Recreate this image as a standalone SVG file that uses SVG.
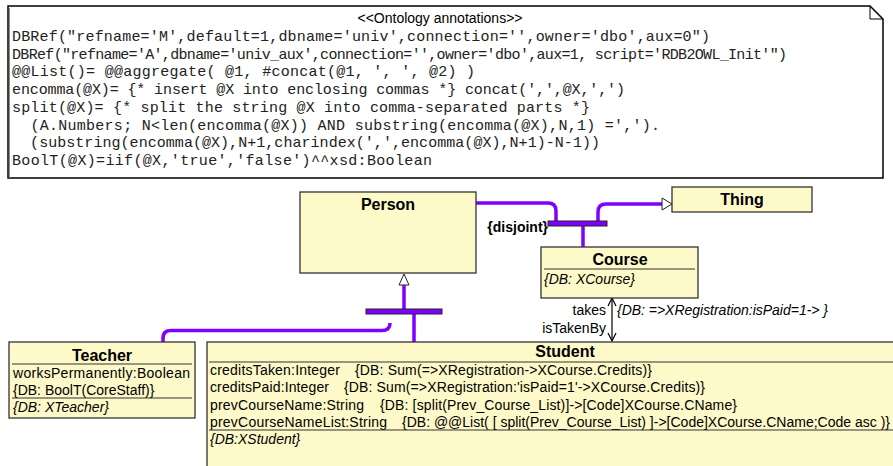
<svg xmlns="http://www.w3.org/2000/svg" width="893" height="466" viewBox="0 0 893 466">
<style>
.box{fill:#fdf9c8;stroke:#333;stroke-width:1.3}
.sep{stroke:#333;stroke-width:1.2}
.title{font-family:"Liberation Sans",Arial,sans-serif;font-size:16px;font-weight:bold;fill:#000}
.attr{font-family:"Liberation Sans",Arial,sans-serif;font-size:14px;fill:#000}
.it{font-style:italic}
.mono{font-family:"Liberation Mono","Courier New",monospace;font-size:15px;fill:#222}
.gen{fill:none;stroke:#8000ff;stroke-width:3.5}
.bar{fill:#8000ff;stroke:#222;stroke-width:1}
.assoc{fill:none;stroke:#000;stroke-width:1.2}
</style>
<rect width="893" height="466" fill="#fff"/>
<g id="annotation">
<path d="M8,6 H870 L883,19 V178 H8 Z" fill="#fff" stroke="#000" stroke-width="1.5"/>
<path d="M870,6 V19 H883" fill="none" stroke="#000" stroke-width="1"/>
<line x1="9.5" y1="8" x2="9.5" y2="178" stroke="#888" stroke-width="1"/>
<text x="440" y="23" text-anchor="middle" class="attr">&lt;&lt;Ontology annotations&gt;&gt;</text>
<text class="mono" xml:space="preserve" x="12" y="41" textLength="698" lengthAdjust="spacing">DBRef("refname='M',default=1,dbname='univ',connection='',owner='dbo',aux=0")</text>
<text class="mono" xml:space="preserve" x="12" y="58.7" textLength="775" lengthAdjust="spacing">DBRef("refname='A',dbname='univ_aux',connection='',owner='dbo',aux=1, script='RDB2OWL_Init'")</text>
<text class="mono" xml:space="preserve" x="12" y="76.4" textLength="463" lengthAdjust="spacing">@@List()= @@aggregate( @1, #concat(@1, ', ', @2) )</text>
<text class="mono" xml:space="preserve" x="12" y="94.1" textLength="613" lengthAdjust="spacing">encomma(@X)= {* insert @X into enclosing commas *} concat(',',@X,',')</text>
<text class="mono" xml:space="preserve" x="12" y="111.8" textLength="578" lengthAdjust="spacing">split(@X)= {* split the string @X into comma-separated parts *}</text>
<text class="mono" xml:space="preserve" x="12" y="129.5" textLength="648" lengthAdjust="spacing">  (A.Numbers; N&lt;len(encomma(@X)) AND substring(encomma(@X),N,1) =',').</text>
<text class="mono" xml:space="preserve" x="12" y="147.2" textLength="588" lengthAdjust="spacing">  (substring(encomma(@X),N+1,charindex(',',encomma(@X),N+1)-N-1))</text>
<text class="mono" xml:space="preserve" x="12" y="165" textLength="420" lengthAdjust="spacing">BoolT(@X)=iif(@X,'true','false')^^xsd:Boolean</text>
</g>
<g id="connectors">
<path class="gen" d="M476,203 H548 Q556,203 556,211 V221"/>
<path class="gen" d="M598,221 V212 Q598,204 606,204 H662"/>
<polygon points="662,198 672,204 662,210" fill="#fff" stroke="#222" stroke-width="1"/>
<line class="gen" x1="583" y1="226" x2="583" y2="247"/>
<rect class="bar" x="548" y="221" width="59" height="5"/>
<text x="548" y="232" text-anchor="end" class="attr" font-weight="bold">{disjoint}</text>
<polygon points="404,274 409,285 399,285" fill="#fff" stroke="#222" stroke-width="1"/>
<line class="gen" x1="404" y1="285" x2="404" y2="309"/>
<line class="gen" x1="414" y1="314" x2="414" y2="342"/>
<path class="gen" d="M163,342 V338 Q163,330.5 171,330.5 H382 Q390,330.5 390,323"/>
<rect class="bar" x="366" y="309" width="76" height="5"/>
<line class="assoc" x1="612" y1="298" x2="612" y2="341"/>
<path class="assoc" d="M608,306 L612,298 L616,306"/>
<path class="assoc" d="M608,333 L612,341 L616,333"/>
<text x="606" y="315" text-anchor="end" class="attr">takes</text>
<text x="606" y="333" text-anchor="end" class="attr">isTakenBy</text>
<text x="617" y="315" class="attr it" textLength="211" lengthAdjust="spacing">{DB: =&gt;XRegistration:isPaid=1-&gt; }</text>
</g>
<g id="Person">
<rect class="box" x="300" y="192" width="176" height="81"/>
<text x="388" y="210" text-anchor="middle" class="title">Person</text>
</g>
<g id="Thing">
<rect class="box" x="672" y="187" width="140" height="25"/>
<text x="742" y="205" text-anchor="middle" class="title">Thing</text>
</g>
<g id="Course">
<rect class="box" x="541" y="247" width="157" height="51"/>
<text x="620" y="265" text-anchor="middle" class="title">Course</text>
<line class="sep" x1="544" y1="269" x2="695" y2="269"/>
<text x="544" y="284" class="attr it">{DB: XCourse}</text>
</g>
<g id="Teacher">
<rect class="box" x="9" y="342" width="186" height="76"/>
<text x="102" y="361" text-anchor="middle" class="title">Teacher</text>
<line class="sep" x1="12" y1="364" x2="192" y2="364"/>
<text x="13" y="378" class="attr" textLength="177" lengthAdjust="spacing">worksPermanently:Boolean</text>
<text x="13" y="395" class="attr">{DB: BoolT(CoreStaff)}</text>
<line class="sep" x1="12" y1="398" x2="192" y2="398"/>
<text x="13" y="412" class="attr it">{DB: XTeacher}</text>
</g>
<g id="Student">
<rect class="box" x="207" y="342" width="700" height="140"/>
<text x="565" y="357" text-anchor="middle" class="title">Student</text>
<line class="sep" x1="209" y1="362" x2="893" y2="362"/>
<text x="210" y="375" class="attr" textLength="130" lengthAdjust="spacing">creditsTaken:Integer</text>
<text x="355" y="375" class="attr" textLength="297" lengthAdjust="spacing">{DB: Sum(=&gt;XRegistration-&gt;XCourse.Credits)}</text>
<text x="210" y="392" class="attr" textLength="119" lengthAdjust="spacing">creditsPaid:Integer</text>
<text x="344" y="392" class="attr" textLength="361" lengthAdjust="spacing">{DB: Sum(=&gt;XRegistration:'isPaid=1'-&gt;XCourse.Credits)}</text>
<text x="210" y="410" class="attr" textLength="154" lengthAdjust="spacing">prevCourseName:String</text>
<text x="380" y="410" class="attr" textLength="357" lengthAdjust="spacing">{DB: [split(Prev_Course_List)]-&gt;[Code]XCourse.CName}</text>
<text x="210" y="427" class="attr" textLength="177" lengthAdjust="spacing">prevCourseNameList:String</text>
<text x="402" y="427" class="attr" textLength="488" lengthAdjust="spacing">{DB: @@List( [ split(Prev_Course_List) ]-&gt;[Code]XCourse.CName;Code asc )}</text>
<line class="sep" x1="209" y1="430" x2="893" y2="430"/>
<text x="210" y="444" class="attr it">{DB:XStudent}</text>
</g>
</svg>
